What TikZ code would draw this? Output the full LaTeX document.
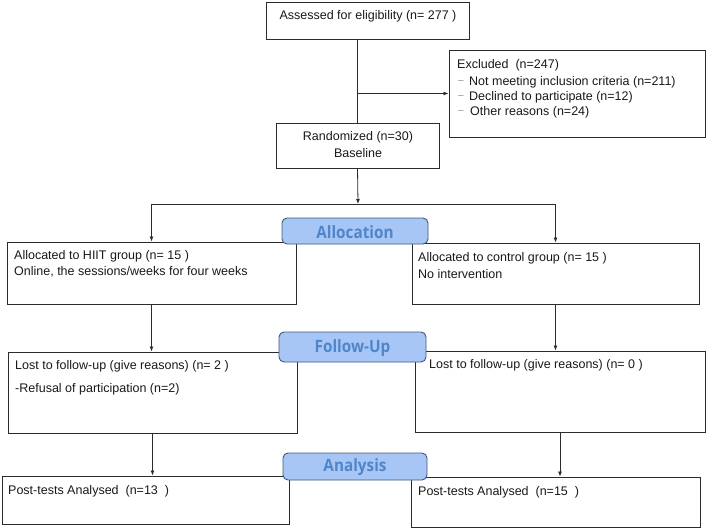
\documentclass[tikz,border=0pt]{standalone}
\usepackage{fontspec}
\setmainfont{Liberation Sans}
\newfontfamily\labfont{Open Sans}
\usetikzlibrary{fit,arrows.meta}
\definecolor{labfill}{HTML}{A7C6F6}
\definecolor{labtext}{HTML}{4F86C9}
\definecolor{labedge}{HTML}{3E5878}
\definecolor{lineclr}{HTML}{2B2B2B}
\begin{document}
\begin{tikzpicture}[x=1pt,y=-1pt,
  boxst/.style={draw=lineclr,line width=0.9pt,inner sep=0pt,fill=none},
  txt/.style={font=\fontsize{12.5}{15}\selectfont,inner sep=0pt,anchor=west,text=black!90},
  ctxt/.style={font=\fontsize{12.5}{15}\selectfont,inner sep=0pt,text=black!90},
  dashmark/.style={font=\fontsize{10}{12}\selectfont,inner sep=0pt,text=black!45},
  labst/.style={draw=labedge,line width=0.9pt,fill=labfill,rounded corners=5pt,inner sep=0pt},
  labtx/.style={font=\labfont\bfseries\fontsize{17}{19}\selectfont,text=labtext,inner sep=0pt},
  conn/.style={draw=lineclr,line width=0.8pt},
  arr/.style={conn,-{Latex[length=5pt,width=4pt]}}]
\useasboundingbox (0,0) rectangle (708,529);
% boxes
\node[boxst,fit={(266,2) (469,39)}] (assess) {};
\node[boxst,fit={(449,50) (705,137)}] (excl) {};
\node[boxst,fit={(276,123) (439,168)}] (rand) {};
\node[boxst,fit={(7,242) (296,304)}] (hiit) {};
\node[boxst,fit={(412,243) (699,304)}] (ctrl) {};
\node[boxst,fit={(8,352) (297,433)}] (lostA) {};
\node[boxst,fit={(415,351) (705,432)}] (lostB) {};
\node[boxst,fit={(2,476) (289,524)}] (postA) {};
\node[boxst,fit={(411,477) (700,527)}] (postB) {};
% texts
\node[ctxt] (tassess) at (368,16) {Assessed for eligibility (n= 277 )};
\node[txt] (texcl) at (457,65) {Excluded\ \ (n=247)};
\node[dashmark] (d1) at (461,82) {–};
\node[txt] (texa) at (469,82) {Not meeting inclusion criteria (n=211)};
\node[dashmark] (d2) at (461,97) {–};
\node[txt] (texb) at (469,97) {Declined to participate (n=12)};
\node[dashmark] (d3) at (461,112) {–};
\node[txt] (texc) at (470,112) {Other reasons (n=24)};
\node[ctxt] (trand1) at (358,137) {Randomized (n=30)};
\node[ctxt] (trand2) at (358,153) {Baseline};
\node[txt] (thiit1) at (14,256) {Allocated to HIIT group (n= 15 )};
\node[txt] (thiit2) at (14,272) {Online, the sessions/weeks for four weeks};
\node[txt] (tctrl1) at (418,258) {Allocated to control group (n= 15 )};
\node[txt] (tctrl2) at (418,274) {No intervention};
\node[txt] (tlostA1) at (15,366) {Lost to follow-up (give reasons) (n= 2 )};
\node[txt] (tlostA2) at (15,389) {-Refusal of participation (n=2)};
\node[txt] (tlostB) at (429,365) {Lost to follow-up (give reasons) (n= 0 )};
\node[txt] (tpostA) at (8,491) {Post-tests Analysed\ \ (n=13\ \ )};
\node[txt] (tpostB) at (418,492) {Post-tests Analysed\ \ (n=15\ \ )};
% connectors
\coordinate (split) at (358,204);
\draw[conn] (rand.north |- assess.south) -- (rand.north);
\draw[arr] (excl.west -| rand.north) -- (excl.west);
\draw[arr] (rand.south) -- (split);
\draw[conn] (split -| hiit.north) -- (split -| ctrl.north);
\draw[arr] (split -| hiit.north) -- (hiit.north);
\draw[arr] (split -| ctrl.north) -- (ctrl.north);
\draw[arr] (hiit.south) -- (hiit.south |- lostA.north);
\draw[arr] (ctrl.south) -- (ctrl.south |- lostB.north);
\draw[arr] (lostA.south) -- (lostA.south |- postA.north);
\draw[arr] (lostB.south) -- (lostB.south |- postB.north);
% stage labels
\node[labst,fit={(282,218) (428,244)}] (lalloc) {};
\node[labtx] (talloc) at ([yshift=-1pt]lalloc.center) {\scalebox{0.9}[1]{Allocation}};
\node[labst,fit={(279,332) (426,362)}] (lfollow) {};
\node[labtx] (tfollow) at ([yshift=-1pt]lfollow.center) {\scalebox{0.9}[1]{Follow-Up}};
\node[labst,fit={(283,453) (427,480)}] (lanal) {};
\node[labtx] (tanal) at ([yshift=-1pt]lanal.center) {\scalebox{0.9}[1]{Analysis}};
\end{tikzpicture}
\end{document}
